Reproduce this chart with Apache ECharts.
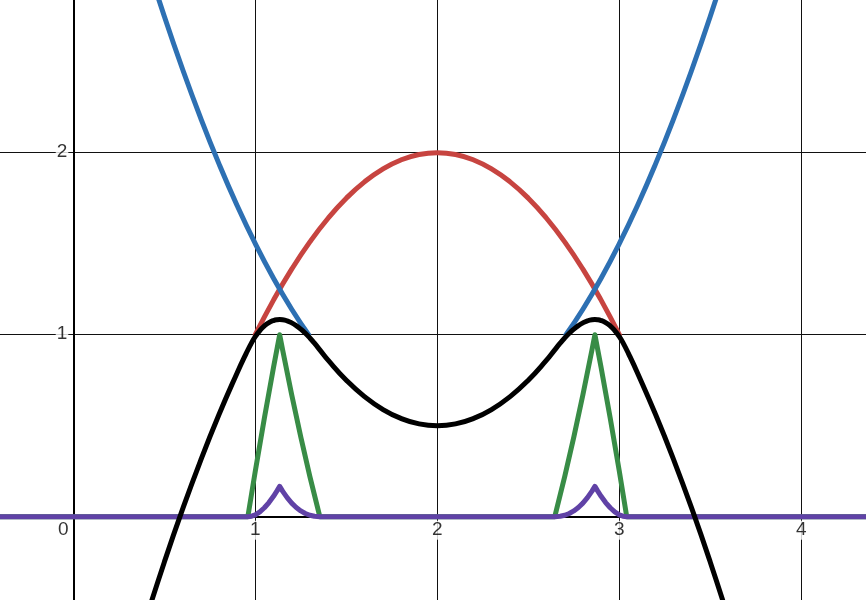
<!DOCTYPE html>
<html>
<head>
<meta charset="utf-8">
<script src="https://cdn.jsdelivr.net/npm/echarts@6/dist/echarts.min.js"></script>
<style>
html,body{margin:0;padding:0;background:#fff;}
#chart{width:866px;height:600px;}
</style>
</head>
<body>
<div id="chart"></div>
<script>
// [x, y] samples of each plotted curve
var redCurve = [[1.0,1.0],[1.1,1.19],[1.2,1.36],[1.3,1.51],[1.4,1.64],[1.5,1.75],[1.6,1.84],[1.7,1.91],[1.8,1.96],[1.9,1.99],[2.0,2.0],
  [2.1,1.99],[2.2,1.96],[2.3,1.91],[2.4,1.84],[2.5,1.75],[2.6,1.64],[2.7,1.51],[2.8,1.36],[2.9,1.19],[3.0,1.0]];
var blueLeft = [[0.4,3.06],[0.5,2.75],[0.6,2.46],[0.7,2.19],[0.8,1.94],[0.9,1.71],[1.0,1.5],[1.1,1.31],[1.2,1.14],[1.2929,1.0]];
var blueRight = [[2.7071,1.0],[2.8,1.14],[2.9,1.31],[3.0,1.5],[3.1,1.71],[3.2,1.94],[3.3,2.19],[3.4,2.46],[3.5,2.75],[3.6,3.06]];
var greenCurve = [[-0.6,0],[0.9592,0],[1.0,0.25],[1.05,0.5425],[1.1,0.82],[1.134,1.0],[1.15,0.9175],[1.2,0.67],[1.25,0.4375],[1.3,0.22],[1.3545,0],
  [2.6455,0],[2.7,0.22],[2.75,0.4375],[2.8,0.67],[2.85,0.9175],[2.866,1.0],[2.9,0.82],[2.95,0.5425],[3.0,0.25],[3.0408,0],[4.6,0]];
var purpleCurve = [[-0.6,0],[0.9592,0],[0.98,0.0028],[1.0,0.0104],[1.025,0.0264],[1.05,0.0491],[1.075,0.0778],[1.1,0.1121],[1.12,0.1432],[1.134,0.1667],
  [1.15,0.1403],[1.175,0.1045],[1.2,0.0748],[1.225,0.0508],[1.25,0.0319],[1.275,0.0178],[1.3,0.0081],[1.325,0.0023],[1.3545,0],
  [2.6455,0],[2.675,0.0023],[2.7,0.0081],[2.725,0.0178],[2.75,0.0319],[2.775,0.0508],[2.8,0.0748],[2.825,0.1045],[2.85,0.1403],[2.866,0.1667],
  [2.88,0.1432],[2.9,0.1121],[2.925,0.0778],[2.95,0.0491],[2.975,0.0264],[3.0,0.0104],[3.02,0.0028],[3.0408,0],[4.6,0]];
var blackCurve = [[0.4,-0.56],[0.5,-0.25],[0.6,0.04],[0.7,0.31],[0.8,0.56],[0.9,0.79],[0.95,0.8975],[0.98,0.9568],[1.0,0.9896],[1.025,1.023],
  [1.05,1.0484],[1.075,1.0666],[1.1,1.0779],[1.12,1.0824],[1.134,1.0833],[1.15,1.0822],[1.175,1.0761],[1.2,1.0652],[1.225,1.0498],[1.25,1.0306],
  [1.275,1.0078],[1.3,0.9819],[1.325,0.9533],[1.3545,0.917],[1.4,0.86],[1.5,0.75],[1.6,0.66],[1.7,0.59],[1.8,0.54],[1.9,0.51],[2.0,0.5],
  [2.1,0.51],[2.2,0.54],[2.3,0.59],[2.4,0.66],[2.5,0.75],[2.6,0.86],[2.6455,0.917],[2.675,0.9533],[2.7,0.9819],[2.725,1.0078],[2.75,1.0306],
  [2.775,1.0498],[2.8,1.0652],[2.825,1.0761],[2.85,1.0822],[2.866,1.0833],[2.88,1.0824],[2.9,1.0779],[2.925,1.0666],[2.95,1.0484],[2.975,1.023],
  [3.0,0.9896],[3.02,0.9568],[3.05,0.8975],[3.1,0.79],[3.2,0.56],[3.3,0.31],[3.4,0.04],[3.5,-0.25],[3.6,-0.56]];
var xTickValues = [0, 1, 2, 3, 4];
var xTickLabels = ['0', '1', '2', '3', '4'];
var yTickValues = [1, 2];
var yTickLabels = ['1', '2'];

var chart = echarts.init(document.getElementById('chart'), null, {renderer:'canvas'});
var FONT = '"Liberation Sans", Arial, sans-serif';
function lineSeries(data, color, smooth, z){
  return {type:'line', data:data, showSymbol:false, symbol:'none', smooth:smooth, z:z, clip:true,
    lineStyle:{color:color, width:5, cap:'round', join:'round'}, emphasis:{disabled:true}, silent:true};
}
function labelStyle(text, position, distance, offset){
  return {show:true, formatter:text, position:position, distance:distance, offset:offset,
    fontSize:19, fontWeight:'normal', color:'#000', fontFamily:FONT,
    backgroundColor:'#fff', padding:[0,1], lineHeight:19};
}
var xLabelData = xTickValues.map(function(v, i){
  return {value:[v, 0], label:labelStyle(xTickLabels[i], 'bottom', 3, v === 0 ? [-10, 0] : [0, 0])};
});
var yLabelData = yTickValues.map(function(v, i){
  return {value:[0, v], label:labelStyle(yTickLabels[i], 'left', 4, [0, -1])};
});
function labelSeries(data){
  return {type:'scatter', data:data, symbol:'circle', symbolSize:2, z:10, silent:true, clip:false,
    itemStyle:{color:'rgba(0,0,0,0)'},
    label:{show:true, fontSize:19, color:'#000', fontFamily:FONT}};
}
chart.setOption({
  animation:false,
  backgroundColor:'#fff',
  grid:{left:-20, right:-20, top:-20, bottom:-20, outerBoundsMode:'none', containLabel:false},
  xAxis:{type:'value', min:-0.5126, max:4.4654, minInterval:1, maxInterval:1,
    axisLine:{onZero:true, lineStyle:{color:'#000', width:2}},
    axisTick:{show:false},
    axisLabel:{show:false},
    splitLine:{show:true, lineStyle:{color:'#111', width:1}}
  },
  yAxis:{type:'value', min:-0.5676, max:2.949, minInterval:1, maxInterval:1,
    axisLine:{onZero:true, lineStyle:{color:'#000', width:2}},
    axisTick:{show:false},
    axisLabel:{show:false},
    splitLine:{show:true, lineStyle:{color:'#111', width:1}}
  },
  series:[
    lineSeries(redCurve, '#c74440', true, 2),
    lineSeries(blueLeft, '#2d70b3', true, 3),
    lineSeries(blueRight, '#2d70b3', true, 3),
    lineSeries(greenCurve, '#388c46', false, 4),
    lineSeries(purpleCurve, '#6042a6', false, 5),
    lineSeries(blackCurve, '#000000', true, 6),
    labelSeries(xLabelData),
    labelSeries(yLabelData)
  ]
});
</script>
</body>
</html>
